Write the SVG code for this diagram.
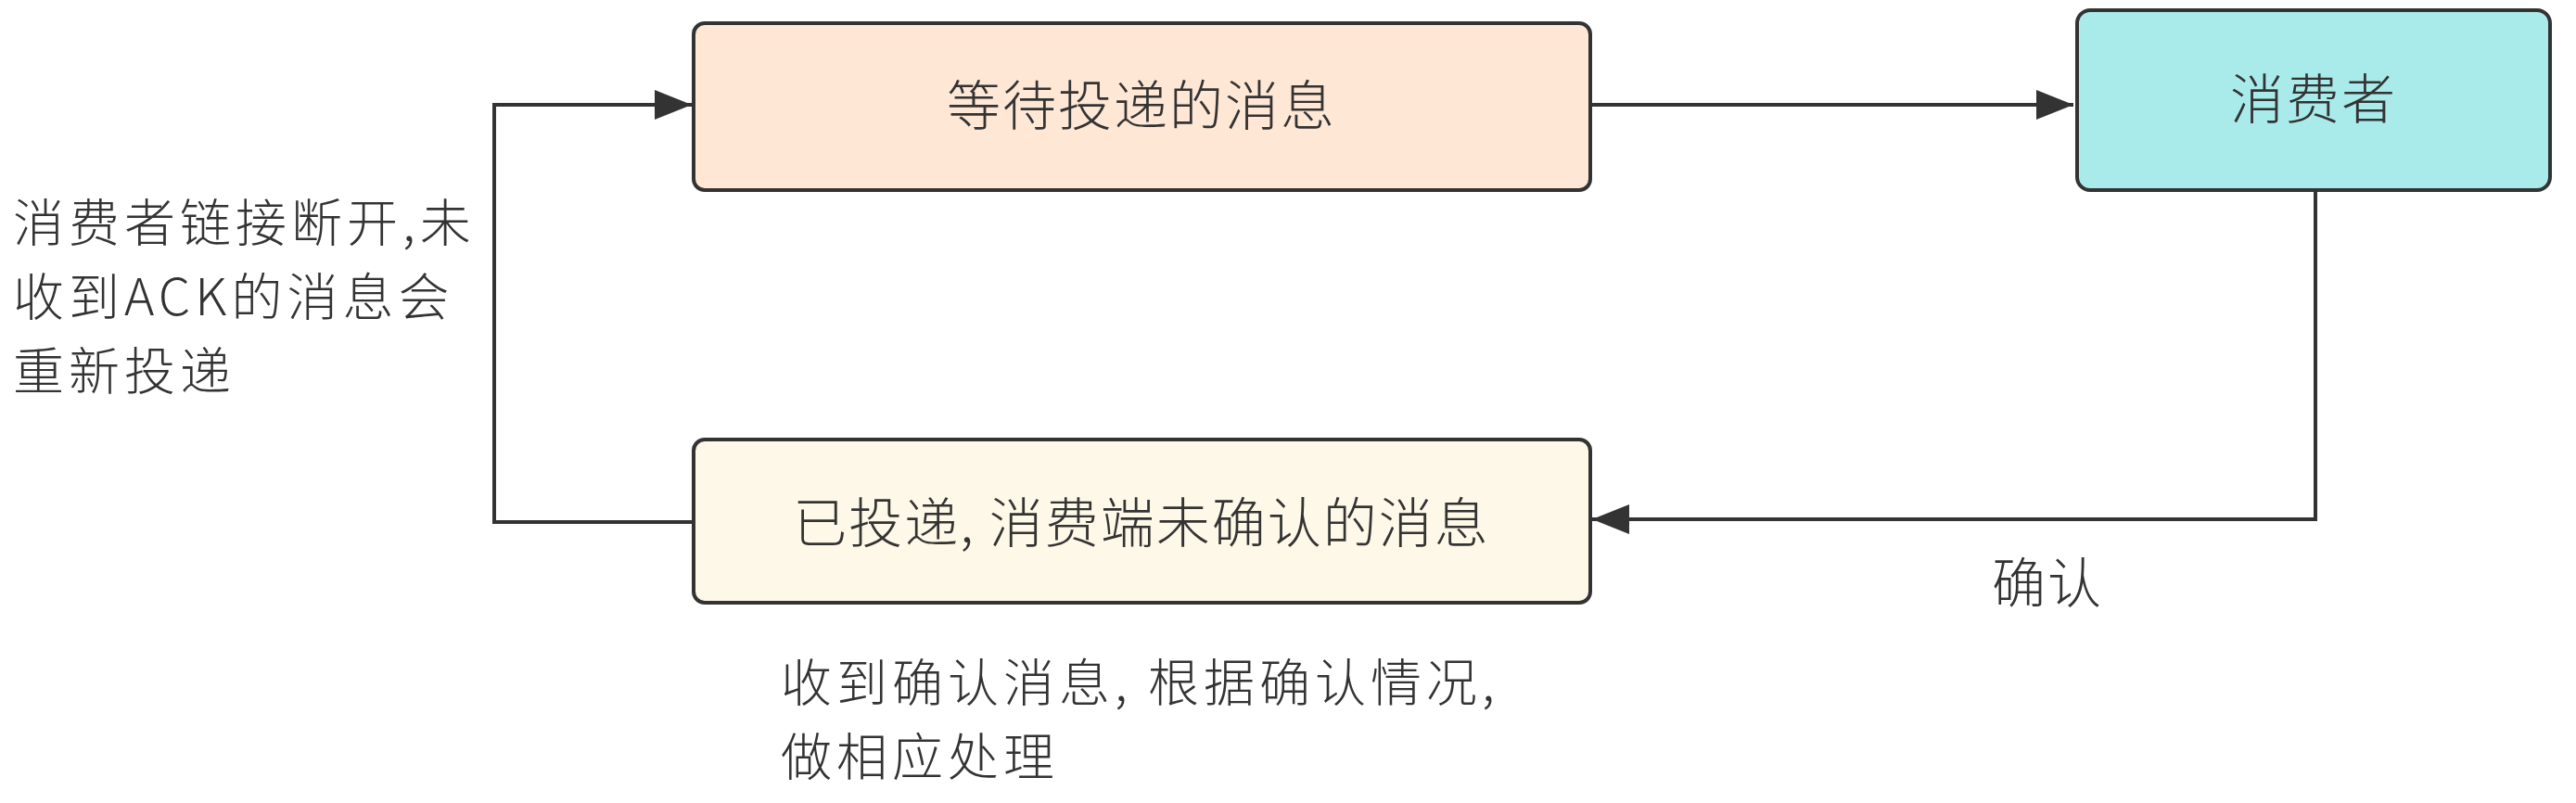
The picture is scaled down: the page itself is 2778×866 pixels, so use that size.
<svg xmlns="http://www.w3.org/2000/svg" width="2778" height="866" viewBox="0 0 2778 866">
<style>
.box{stroke:#333;stroke-width:4}
.t{font-family:"Noto Sans CJK SC","Noto Sans",sans-serif;font-size:58px;font-weight:300;letter-spacing:2px;fill:#333}
.m{font-size:55px;letter-spacing:5px}
.c{text-anchor:middle}
.ln{fill:none;stroke:#333;stroke-width:4}
</style>
<defs>
<marker id="ah" markerUnits="userSpaceOnUse" markerWidth="42" markerHeight="32" refX="40" refY="16" orient="auto">
<path d="M0,0 L40,16 L0,32 Z" fill="#333"/>
</marker>
</defs>
<rect width="2778" height="866" fill="#fff"/>
<g id="connectors">
<path class="ln" d="M748,563 L533,563 L533,113 L746,113" marker-end="url(#ah)"/>
<path class="ln" d="M1715,113 L2236,113" marker-end="url(#ah)"/>
<path class="ln" d="M2497,205 L2497,560 L1717,560" marker-end="url(#ah)"/>
</g>
<g id="pending">
<rect class="box" x="748" y="25" width="967" height="180" rx="12" fill="#FFE7D6"/>
<text class="t c" x="1231" y="135">等待投递的消息</text>
</g>
<g id="consumer">
<rect class="box" x="2240" y="11" width="510" height="194" rx="14" fill="#A9EBEB"/>
<text class="t c" x="2495" y="128">消费者</text>
</g>
<g id="unacked">
<rect class="box" x="748" y="474" width="967" height="176" rx="12" fill="#FDF8E7"/>
<text class="t c" x="1231" y="585">已投递, 消费端未确认的消息</text>
</g>
<g id="labels">
<text class="t m" x="14" y="260">消费者链接断开,未</text>
<text class="t m" x="14" y="340">收到ACK的消息会</text>
<text class="t m" x="14" y="420">重新投递</text>
<text class="t" x="2148" y="650">确认</text>
<text class="t m" x="842" y="756">收到确认消息, 根据确认情况,</text>
<text class="t m" x="842" y="836">做相应处理</text>
</g>
</svg>
